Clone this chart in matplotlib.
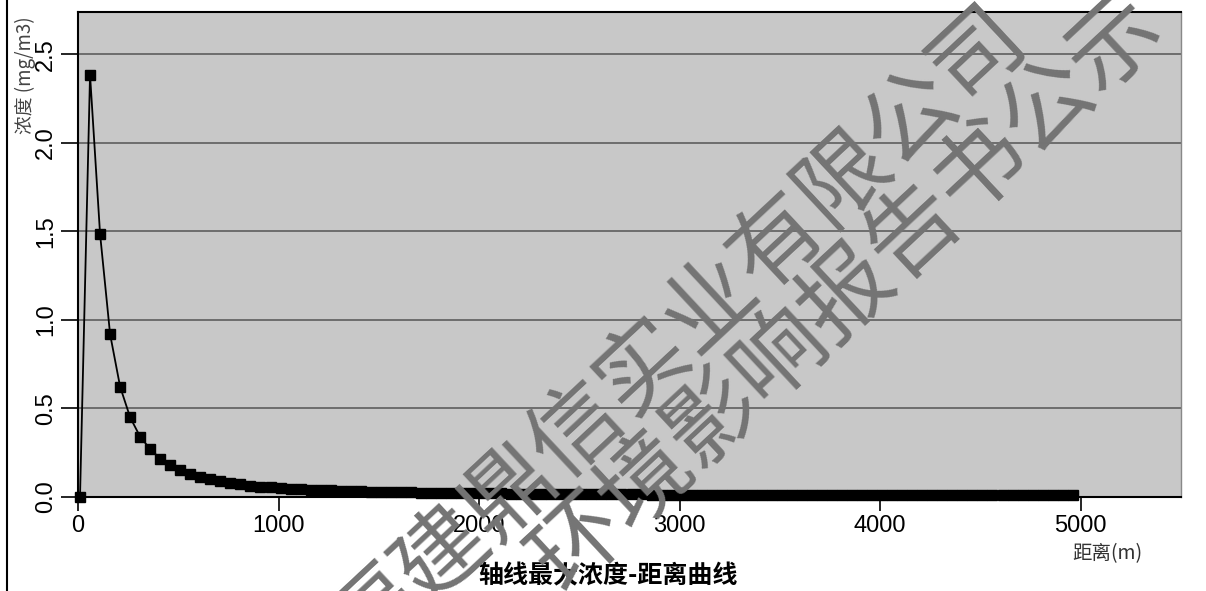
import matplotlib
matplotlib.use("Agg")
import matplotlib.pyplot as plt
from matplotlib.lines import Line2D

# distance (m) and axial max concentration (mg/m3)
dist = [10 + 50 * k for k in range(100)]
conc = [0.0, 2.385, 1.486, 0.920, 0.623, 0.450, 0.340, 0.271, 0.216, 0.181,
        0.153, 0.130, 0.115, 0.100, 0.092, 0.081, 0.072, 0.064, 0.058, 0.055,
        0.050, 0.047, 0.044, 0.041, 0.039, 0.037, 0.035, 0.033, 0.032, 0.030,
        0.029, 0.028, 0.027, 0.026, 0.025, 0.024, 0.023, 0.023, 0.022, 0.021,
        0.021, 0.020, 0.020, 0.019, 0.019, 0.018, 0.018, 0.017, 0.017, 0.017,
        0.016, 0.016, 0.016, 0.015, 0.015, 0.015, 0.015, 0.014, 0.014, 0.014,
        0.014, 0.014, 0.013, 0.013, 0.013, 0.013, 0.013, 0.013, 0.012, 0.012,
        0.012, 0.012, 0.012, 0.012, 0.012, 0.011, 0.011, 0.011, 0.011, 0.011,
        0.011, 0.011, 0.011, 0.011, 0.011, 0.010, 0.010, 0.010, 0.010, 0.010,
        0.010, 0.010, 0.010, 0.010, 0.010, 0.010, 0.009, 0.009, 0.009, 0.009]

xticks = [0, 1000, 2000, 3000, 4000, 5000]
yticks = [0.0, 0.5, 1.0, 1.5, 2.0, 2.5]

title = "轴线最大浓度-距离曲线"
xlabel = "距离(m)"
ylabel = "浓度 (mg/m3)"
watermark1 = "福建鼎信实业有限公司"
watermark2 = "环境影响报告书公示"

num_font = ["Liberation Sans Narrow", "Liberation Sans", "DejaVu Sans"]
cjk_font = ["Noto Sans CJK SC", "DejaVu Sans"]

W, H = 1206, 591
fig = plt.figure(figsize=(W / 100, H / 100), dpi=100)
ax = fig.add_axes([78 / W, 1 - 497 / H, (1181 - 78) / W, (497 - 12) / H])
ax.set_facecolor("#c8c8c8")

ax.plot(dist, conc, color="black", lw=1.3, marker="s", ms=7.6,
        mfc="black", mec="black", clip_on=False, zorder=3)

ax.set_xlim(0, 5500)
ax.set_ylim(0, 2.74)
ax.set_xticks(xticks)
ax.set_yticks(yticks)
ax.set_xticklabels([str(t) for t in xticks], family=num_font, fontsize=17)
ax.set_yticklabels(["%.1f" % t for t in yticks], family=num_font, fontsize=17,
                   rotation=90, va="center")
ax.tick_params(axis="x", length=10, width=1.2, pad=3)
ax.tick_params(axis="y", length=12, width=1.2, pad=3)

for y in yticks[1:]:
    ax.axhline(y, color="#666666", lw=1.3, zorder=1)

for side in ["top", "left", "bottom"]:
    ax.spines[side].set_color("black")
    ax.spines[side].set_linewidth(1.5)
ax.spines["right"].set_color("#888888")
ax.spines["right"].set_linewidth(1.0)

fig.text(25 / W, 1 - 75 / H, ylabel, rotation=90, ha="center", va="center",
         family=cjk_font, fontsize=13.5, color="#444444")
fig.text(1107 / W, 1 - 554 / H, xlabel, ha="center", va="center",
         family=cjk_font, fontsize=14, color="#333333")
fig.text(608 / W, 1 - 576 / H, title, ha="center", va="center",
         family=cjk_font, fontsize=18, fontweight="bold", color="black")

# page border line on the left
fig.add_artist(Line2D([7 / W, 7 / W], [0, 1], transform=fig.transFigure,
                      color="black", lw=1.5))

# watermark
fig.text(678 / W, 1 - 338 / H, watermark1, rotation=43, ha="center",
         va="center", rotation_mode="anchor", family=cjk_font, fontsize=66,
         fontweight="light", color="#747474", zorder=10)
fig.text(848 / W, 1 - 294 / H, watermark2, rotation=43, ha="center",
         va="center", rotation_mode="anchor", family=cjk_font, fontsize=66,
         fontweight="light", color="#747474", zorder=10)

fig.savefig("out.png", dpi=100)
